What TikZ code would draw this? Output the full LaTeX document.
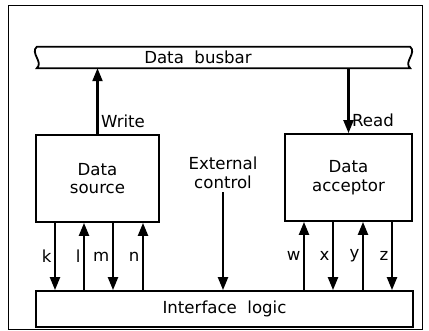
\documentclass[tikz,border=0pt]{standalone}
\usepackage{fontspec}
\setmainfont{DejaVu Sans}
\usetikzlibrary{arrows.meta,positioning}

\begin{document}
\begin{tikzpicture}[x=1pt,y=-1pt
,font=\fontsize{16.6}{18.5}\selectfont
,blk/.style={draw=black,line width=1.8pt,fill=white,align=center,inner sep=0}
,sig/.style={line width=2.2pt,-{Triangle[width=10pt,length=13pt]}}
,lbl/.style={inner sep=2.5pt}
]
\useasboundingbox (0,0) rectangle (429,330);
% outer frame
\node[draw=black,line width=0.8pt,minimum width=414pt,minimum height=324pt,inner sep=0] (frame) at (215,167) {};
% busbar
\node[minimum width=373pt,minimum height=21pt,inner sep=0] (bus) at (223.5,57.5) {};
\draw[line width=1.8pt] (bus.north west) -- (bus.north east)
  .. controls +(7,6) and +(-7,-6) .. (bus.south east) -- (bus.south west)
  .. controls +(7,-6) and +(-7,6) .. (bus.north west) -- cycle;
\node (buslbl) at (198,57) {Data\ \ busbar};
% blocks
\node[blk,minimum width=123pt,minimum height=87pt] (src) at (97.5,178.5) {Data\\source};
\node[blk,minimum width=127pt,minimum height=87pt] (acc) at (348.5,177.5) {Data\\acceptor};
\node[blk,minimum width=377pt,minimum height=36pt] (iface) at (224.5,309) {Interface\ \ logic};
\node[align=center] (ext) at (223,173) {External\\control};
% busbar connections
\draw[sig] (src.north) -- (src.north |- bus.south) node[lbl,pos=0.2,right]{Write};
\draw[sig] (acc.north |- bus.south) -- (acc.north) node[lbl,pos=0.8,right]{Read};
\draw[sig] (ext.south) -- (ext.south |- iface.north);
% signal lines
\foreach \lab/\xx/\from/\to in {k/55/src.south/iface.north,l/84/iface.north/src.south,
    m/113/src.south/iface.north,n/143/iface.north/src.south,
    w/304/iface.north/acc.south,x/333/acc.south/iface.north,
    y/363/iface.north/acc.south,z/392/acc.south/iface.north}{
  \coordinate (p\lab) at (\xx,0);
  \draw[sig] (\from -| p\lab) -- (\to -| p\lab) node[lbl,midway,left]{\lab};
}
\end{tikzpicture}
\end{document}
